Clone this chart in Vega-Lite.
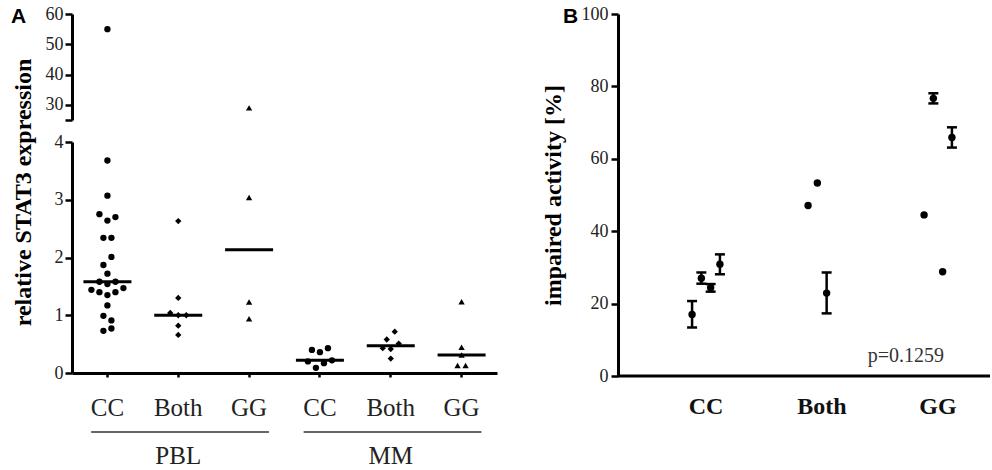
{
  "$schema": "https://vega.github.io/schema/vega-lite/v6.json",
  "background": "white",
  "padding": {"left": 11, "top": 5, "right": 2, "bottom": 2},
  "spacing": 44,
  "config": {
    "view": {"stroke": null},
    "font": "Liberation Serif",
    "axis": {"grid": false, "domainColor": "black", "domainWidth": 3, "tickColor": "black", "tickWidth": 2.5, "labelFont": "Liberation Serif", "labelColor": "#222", "titleFont": "Liberation Serif", "titleColor": "black"}
  },
  "datasets": {
    "expr": [
      {"cat": "PBL CC", "geno": "CC", "v": 55, "slot": 0},
      {"cat": "PBL CC", "geno": "CC", "v": 3.68, "slot": 0},
      {"cat": "PBL CC", "geno": "CC", "v": 3.07, "slot": 0},
      {"cat": "PBL CC", "geno": "CC", "v": 2.75, "slot": -1},
      {"cat": "PBL CC", "geno": "CC", "v": 2.64, "slot": 0},
      {"cat": "PBL CC", "geno": "CC", "v": 2.70, "slot": 1},
      {"cat": "PBL CC", "geno": "CC", "v": 2.34, "slot": -0.5},
      {"cat": "PBL CC", "geno": "CC", "v": 2.34, "slot": 0.5},
      {"cat": "PBL CC", "geno": "CC", "v": 2.01, "slot": 0.5},
      {"cat": "PBL CC", "geno": "CC", "v": 1.87, "slot": -0.5},
      {"cat": "PBL CC", "geno": "CC", "v": 1.72, "slot": 0},
      {"cat": "PBL CC", "geno": "CC", "v": 1.58, "slot": -1},
      {"cat": "PBL CC", "geno": "CC", "v": 1.54, "slot": 0},
      {"cat": "PBL CC", "geno": "CC", "v": 1.58, "slot": 1},
      {"cat": "PBL CC", "geno": "CC", "v": 1.44, "slot": -2},
      {"cat": "PBL CC", "geno": "CC", "v": 1.40, "slot": -1},
      {"cat": "PBL CC", "geno": "CC", "v": 1.35, "slot": 0},
      {"cat": "PBL CC", "geno": "CC", "v": 1.40, "slot": 1},
      {"cat": "PBL CC", "geno": "CC", "v": 1.47, "slot": 2},
      {"cat": "PBL CC", "geno": "CC", "v": 1.17, "slot": 0},
      {"cat": "PBL CC", "geno": "CC", "v": 0.99, "slot": -0.5},
      {"cat": "PBL CC", "geno": "CC", "v": 0.91, "slot": 0.5},
      {"cat": "PBL CC", "geno": "CC", "v": 0.73, "slot": -0.5},
      {"cat": "PBL CC", "geno": "CC", "v": 0.77, "slot": 0.5},
      {"cat": "PBL Both", "geno": "Both", "v": 2.63, "slot": 0},
      {"cat": "PBL Both", "geno": "Both", "v": 1.30, "slot": 0},
      {"cat": "PBL Both", "geno": "Both", "v": 1.04, "slot": -1},
      {"cat": "PBL Both", "geno": "Both", "v": 1.00, "slot": 0},
      {"cat": "PBL Both", "geno": "Both", "v": 1.00, "slot": 1},
      {"cat": "PBL Both", "geno": "Both", "v": 0.82, "slot": 0},
      {"cat": "PBL Both", "geno": "Both", "v": 0.66, "slot": 0},
      {"cat": "PBL GG", "geno": "GG", "v": 29, "slot": 0},
      {"cat": "PBL GG", "geno": "GG", "v": 3.04, "slot": 0},
      {"cat": "PBL GG", "geno": "GG", "v": 1.23, "slot": 0},
      {"cat": "PBL GG", "geno": "GG", "v": 0.94, "slot": 0},
      {"cat": "MM CC", "geno": "CC", "v": 0.40, "slot": -1},
      {"cat": "MM CC", "geno": "CC", "v": 0.36, "slot": 0},
      {"cat": "MM CC", "geno": "CC", "v": 0.43, "slot": 1},
      {"cat": "MM CC", "geno": "CC", "v": 0.20, "slot": -1.5},
      {"cat": "MM CC", "geno": "CC", "v": 0.17, "slot": 0.5},
      {"cat": "MM CC", "geno": "CC", "v": 0.22, "slot": 1.5},
      {"cat": "MM CC", "geno": "CC", "v": 0.09, "slot": -0.5},
      {"cat": "MM Both", "geno": "Both", "v": 0.715, "slot": 0.5},
      {"cat": "MM Both", "geno": "Both", "v": 0.58, "slot": -0.5},
      {"cat": "MM Both", "geno": "Both", "v": 0.51, "slot": 1},
      {"cat": "MM Both", "geno": "Both", "v": 0.43, "slot": -1},
      {"cat": "MM Both", "geno": "Both", "v": 0.415, "slot": 0},
      {"cat": "MM Both", "geno": "Both", "v": 0.25, "slot": 0},
      {"cat": "MM GG", "geno": "GG", "v": 1.235, "slot": 0},
      {"cat": "MM GG", "geno": "GG", "v": 0.445, "slot": 0},
      {"cat": "MM GG", "geno": "GG", "v": 0.31, "slot": 0},
      {"cat": "MM GG", "geno": "GG", "v": 0.13, "slot": -0.5},
      {"cat": "MM GG", "geno": "GG", "v": 0.13, "slot": 0.5}
    ],
    "groups": [
      {"grp": "PBL", "first": "PBL CC", "mid": "PBL Both", "last": "PBL GG"},
      {"grp": "MM", "first": "MM CC", "mid": "MM Both", "last": "MM GG"}
    ],
    "act": [
      {"geno": "CC", "rep": "1", "mean": 17.0, "lo": 13.4, "hi": 20.7},
      {"geno": "CC", "rep": "2", "mean": 27.0, "lo": 25.5, "hi": 28.6},
      {"geno": "CC", "rep": "3", "mean": 24.4, "lo": 23.3, "hi": 25.4},
      {"geno": "CC", "rep": "4", "mean": 30.9, "lo": 28.1, "hi": 33.6},
      {"geno": "Both", "rep": "1", "mean": 47.1, "lo": null, "hi": null},
      {"geno": "Both", "rep": "2", "mean": 53.3, "lo": null, "hi": null},
      {"geno": "Both", "rep": "3", "mean": 22.9, "lo": 17.3, "hi": 28.6},
      {"geno": "GG", "rep": "1", "mean": 44.5, "lo": null, "hi": null},
      {"geno": "GG", "rep": "2", "mean": 76.7, "lo": 75.3, "hi": 78.1},
      {"geno": "GG", "rep": "3", "mean": 28.8, "lo": null, "hi": null},
      {"geno": "GG", "rep": "4", "mean": 65.9, "lo": 63.1, "hi": 68.7}
    ],
    "note": [
      {"label": "p=0.1259", "near": "GG", "level": 5.5}
    ]
  },
  "hconcat": [
    {
      "bounds": "flush",
      "spacing": 22,
      "title": {"text": "A", "font": "Liberation Sans", "fontSize": 21, "fontWeight": "bold", "color": "black", "anchor": "start", "frame": "bounds", "offset": -22},
      "vconcat": [
        {
          "width": 425,
          "height": 106,
          "data": {"name": "expr"},
          "transform": [{"filter": "datum.v >= 25"}],
          "mark": {"type": "point", "filled": true, "color": "black", "opacity": 1, "size": 40},
          "encoding": {
            "x": {"field": "cat", "type": "nominal", "scale": {"type": "band", "domain": ["PBL CC", "PBL Both", "PBL GG", "MM CC", "MM Both", "MM GG"], "paddingInner": 0, "paddingOuter": 0}, "axis": null},
            "xOffset": {"field": "slot", "type": "quantitative", "scale": {"domain": [-4.425, 4.425]}},
            "y": {"field": "v", "type": "quantitative", "scale": {"domain": [25, 60], "nice": false, "zero": false},
              "axis": {"values": [25, 30, 40, 50, 60], "format": "d", "labelExpr": "datum.value == 25 ? '' : datum.label", "labelFontSize": 18, "tickSize": 7, "labelPadding": 2,
                "title": "relative STAT3 expression", "titleFontSize": 24, "titleFontWeight": "bold", "titleY": 178, "titlePadding": 10}},
            "shape": {"field": "geno", "type": "nominal", "scale": {"domain": ["CC", "Both", "GG"], "range": ["circle", "diamond", "triangle-up"]}, "legend": null}
          }
        },
        {
          "width": 425,
          "height": 231,
          "layer": [
            {
              "data": {"name": "expr"},
              "transform": [{"filter": "datum.v <= 4"}],
              "mark": {"type": "point", "filled": true, "color": "black", "opacity": 1, "size": 40},
              "encoding": {
                "x": {"field": "cat", "type": "nominal", "scale": {"type": "band", "domain": ["PBL CC", "PBL Both", "PBL GG", "MM CC", "MM Both", "MM GG"], "paddingInner": 0, "paddingOuter": 0},
                  "axis": {"title": null, "labelExpr": "split(datum.label, ' ')[1]", "labelFontSize": 25, "labelAngle": 0, "tickSize": 4, "labelPadding": 18}},
                "xOffset": {"field": "slot", "type": "quantitative", "scale": {"domain": [-4.425, 4.425]}},
                "y": {"field": "v", "type": "quantitative", "scale": {"domain": [0, 4], "nice": false},
                  "axis": {"values": [0, 1, 2, 3, 4], "format": "d", "labelFontSize": 18, "tickSize": 7, "labelPadding": 2, "title": null}},
                "shape": {"field": "geno", "type": "nominal", "scale": {"domain": ["CC", "Both", "GG"], "range": ["circle", "diamond", "triangle-up"]}, "legend": null}
              }
            },
            {
              "data": {"name": "expr"},
              "mark": {"type": "tick", "color": "black", "size": 48, "thickness": 3, "opacity": 1},
              "encoding": {
                "x": {"field": "cat", "type": "nominal"},
                "y": {"aggregate": "median", "field": "v", "type": "quantitative"}
              }
            },
            {
              "data": {"name": "groups"},
              "mark": {"type": "rule", "color": "#333", "strokeWidth": 1.5},
              "encoding": {
                "x": {"field": "first", "type": "nominal", "bandPosition": 0.27},
                "x2": {"field": "last", "bandPosition": 0.78},
                "y": {"datum": -1.02}
              }
            },
            {
              "data": {"name": "groups"},
              "mark": {"type": "text", "fontSize": 25, "font": "Liberation Serif", "fontWeight": "normal", "color": "#222", "baseline": "middle"},
              "encoding": {
                "x": {"field": "mid", "type": "nominal"},
                "y": {"datum": -1.44},
                "text": {"field": "grp"}
              }
            }
          ]
        }
      ]
    },
    {
      "width": 372,
      "height": 362,
      "title": {"text": "B", "font": "Liberation Sans", "fontSize": 21, "fontWeight": "bold", "color": "black", "anchor": "start", "frame": "bounds", "offset": -22, "dx": 22},
      "layer": [
        {
          "data": {"name": "act"},
          "transform": [{"filter": "datum.lo != null"}],
          "mark": {"type": "rule", "color": "black", "strokeWidth": 2.5},
          "encoding": {
            "x": {"field": "geno", "type": "nominal", "scale": {"type": "band", "domain": ["CC", "Both", "GG"], "range": [30, 378], "paddingInner": 0.68, "paddingOuter": 0.34},
              "axis": {"title": null, "domain": false, "ticks": false, "labelFontSize": 24, "labelFontWeight": "bold", "labelColor": "#111", "labelAngle": 0, "labelPadding": 18}},
            "xOffset": {"field": "rep", "type": "nominal", "scale": {"domain": ["1", "2", "3", "4"]}},
            "y": {"field": "lo", "type": "quantitative", "scale": {"domain": [0, 100], "nice": false},
              "axis": {"values": [0, 20, 40, 60, 80, 100], "format": "d", "labelFontSize": 18, "tickSize": 7, "labelPadding": 3,
                "title": "impaired activity [%]", "titleFontSize": 24, "titleFontWeight": "bold", "titlePadding": 16}},
            "y2": {"field": "hi"}
          }
        },
        {
          "data": {"name": "act"},
          "transform": [{"filter": "datum.lo != null"}],
          "mark": {"type": "tick", "color": "black", "size": 10, "thickness": 2.5, "opacity": 1},
          "encoding": {
            "x": {"field": "geno", "type": "nominal"},
            "xOffset": {"field": "rep", "type": "nominal"},
            "y": {"field": "lo", "type": "quantitative"}
          }
        },
        {
          "data": {"name": "act"},
          "transform": [{"filter": "datum.hi != null"}],
          "mark": {"type": "tick", "color": "black", "size": 10, "thickness": 2.5, "opacity": 1},
          "encoding": {
            "x": {"field": "geno", "type": "nominal"},
            "xOffset": {"field": "rep", "type": "nominal"},
            "y": {"field": "hi", "type": "quantitative"}
          }
        },
        {
          "data": {"name": "act"},
          "mark": {"type": "circle", "color": "black", "opacity": 1, "size": 55},
          "encoding": {
            "x": {"field": "geno", "type": "nominal"},
            "xOffset": {"field": "rep", "type": "nominal"},
            "y": {"field": "mean", "type": "quantitative"}
          }
        },
        {
          "data": {"name": "note"},
          "mark": {"type": "rule", "color": "black", "strokeWidth": 3},
          "encoding": {"y": {"datum": 0}}
        },
        {
          "data": {"name": "note"},
          "mark": {"type": "text", "align": "right", "baseline": "middle", "fontSize": 20, "font": "Liberation Serif", "fontWeight": "normal", "color": "#333", "dx": 6},
          "encoding": {"x": {"field": "near", "type": "nominal"}, "y": {"field": "level", "type": "quantitative"}, "text": {"field": "label"}}
        }
      ]
    }
  ]
}
